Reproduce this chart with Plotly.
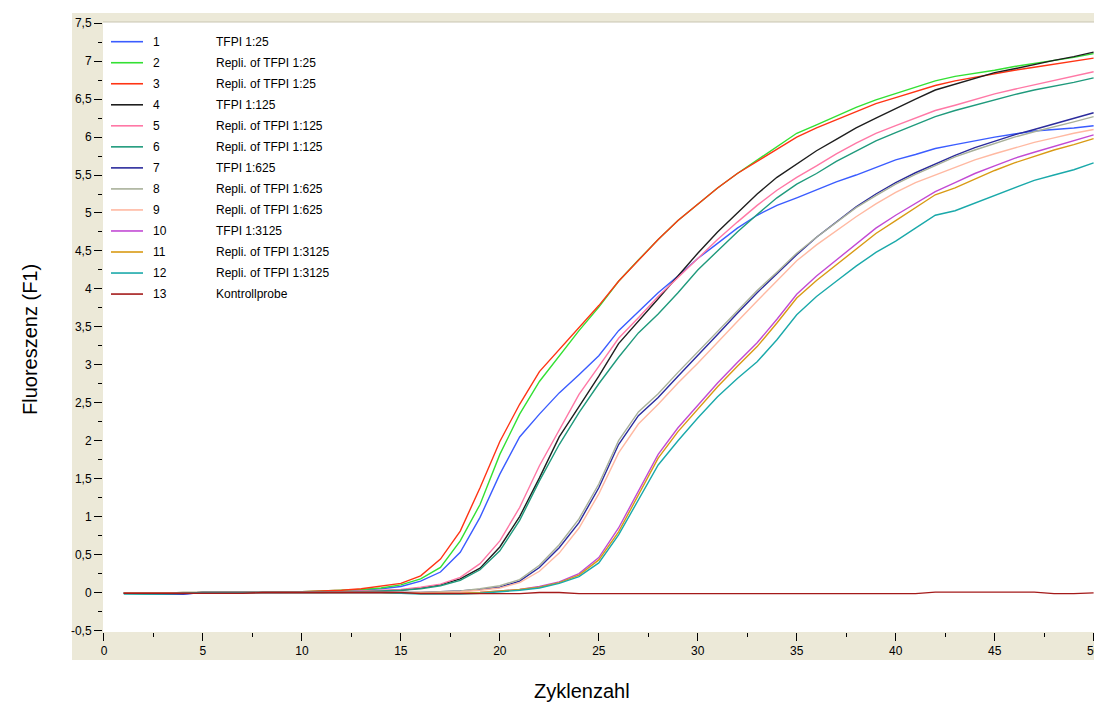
import plotly.graph_objects as go

cycles = list(range(1, 51))

names = ["1", "2", "3", "4", "5", "6", "7", "8", "9", "10", "11", "12", "13"]
labels = ["TFPI 1:25", "Repli. of TFPI 1:25", "Repli. of TFPI 1:25", "TFPI 1:125",
          "Repli. of TFPI 1:125", "Repli. of TFPI 1:125", "TFPI 1:625", "Repli. of TFPI 1:625",
          "Repli. of TFPI 1:625", "TFPI 1:3125", "Repli. of TFPI 1:3125", "Repli. of TFPI 1:3125",
          "Kontrollprobe"]
colors = ["#3a5cff", "#33e033", "#ff3414", "#1e1e1e", "#ff78a6", "#1f9a7c", "#2b2b9c",
          "#a9b19a", "#ffb9a2", "#c24ad4", "#d99a14", "#1aa9aa", "#a41a1a"]

s1 = [-0.01, -0.01, -0.01, -0.02, 0.0, 0.0, 0.0, 0.0, 0.0, 0.01,
      0.01, 0.02, 0.03, 0.05, 0.08, 0.15, 0.27, 0.53, 0.99, 1.56,
      2.05, 2.35, 2.63, 2.87, 3.12, 3.45, 3.7, 3.95, 4.17, 4.4,
      4.6, 4.8, 4.97, 5.1, 5.2, 5.31, 5.41, 5.5, 5.6, 5.7,
      5.77, 5.85, 5.9, 5.95, 6.0, 6.04, 6.08, 6.1, 6.12, 6.15]
s2 = [-0.01, -0.01, -0.01, 0.0, 0.0, 0.0, 0.0, 0.0, 0.01, 0.01,
      0.02, 0.03, 0.04, 0.06, 0.1, 0.18, 0.33, 0.68, 1.16, 1.82,
      2.35, 2.78, 3.11, 3.45, 3.76, 4.1, 4.38, 4.65, 4.9, 5.12,
      5.33, 5.52, 5.7, 5.88, 6.05, 6.16, 6.28, 6.39, 6.49, 6.57,
      6.65, 6.74, 6.8, 6.84, 6.88, 6.93, 6.97, 7.01, 7.05, 7.1]
s3 = [-0.01, -0.01, -0.01, -0.01, -0.01, 0.0, 0.0, 0.0, 0.01, 0.01,
      0.02, 0.03, 0.05, 0.08, 0.12, 0.22, 0.44, 0.81, 1.38, 1.99,
      2.48, 2.91, 3.2, 3.5, 3.78, 4.1, 4.38, 4.65, 4.9, 5.12,
      5.33, 5.52, 5.68, 5.85, 6.0, 6.12, 6.23, 6.34, 6.44, 6.52,
      6.6, 6.68, 6.74, 6.79, 6.84, 6.88, 6.92, 6.96, 7.0, 7.04]
s4 = [-0.01, -0.01, -0.01, -0.01, 0.0, 0.0, 0.0, 0.0, 0.0, 0.0,
      0.0, 0.01, 0.01, 0.02, 0.03, 0.06, 0.1, 0.18, 0.32, 0.6,
      1.0, 1.51, 2.05, 2.45, 2.85, 3.28, 3.57, 3.87, 4.17, 4.47,
      4.75, 5.0, 5.25, 5.47, 5.65, 5.82, 5.97, 6.12, 6.25, 6.38,
      6.5, 6.62, 6.7, 6.77, 6.85, 6.9, 6.96, 7.01, 7.06, 7.12]
s5 = [-0.01, -0.01, -0.01, 0.0, 0.0, 0.0, 0.0, 0.0, 0.0, 0.0,
      0.0, 0.01, 0.02, 0.03, 0.04, 0.07, 0.11, 0.2, 0.38, 0.68,
      1.12, 1.67, 2.15, 2.61, 2.98, 3.35, 3.62, 3.9, 4.15, 4.4,
      4.65, 4.88, 5.1, 5.3, 5.47, 5.62, 5.78, 5.92, 6.05, 6.15,
      6.25, 6.35, 6.42, 6.5, 6.57, 6.63, 6.69, 6.74, 6.8, 6.86]
s6 = [-0.01, -0.02, -0.02, -0.01, 0.0, 0.0, 0.0, 0.0, 0.0, 0.0,
      0.0, 0.0, 0.01, 0.02, 0.03, 0.05, 0.09, 0.16, 0.3, 0.55,
      0.95, 1.47, 1.95, 2.37, 2.75, 3.1, 3.42, 3.67, 3.95, 4.25,
      4.5, 4.75, 4.98, 5.2, 5.38, 5.52, 5.68, 5.82, 5.95, 6.06,
      6.17, 6.27, 6.35, 6.42, 6.5, 6.56, 6.62, 6.67, 6.72, 6.78]
s7 = [-0.01, -0.01, -0.02, -0.02, 0.0, 0.0, 0.0, 0.0, 0.0, 0.0,
      0.0, 0.0, 0.0, 0.0, 0.0, 0.0, 0.01, 0.02, 0.04, 0.07,
      0.15, 0.33, 0.59, 0.92, 1.38, 1.95, 2.33, 2.57, 2.85, 3.12,
      3.4, 3.68, 3.95, 4.2, 4.45, 4.68, 4.88, 5.08, 5.25, 5.4,
      5.53, 5.65, 5.76, 5.86, 5.95, 6.03, 6.1, 6.17, 6.24, 6.32]
s8 = [-0.01, -0.01, -0.01, -0.01, 0.0, 0.0, 0.0, 0.0, 0.0, 0.0,
      0.0, 0.0, 0.0, 0.0, 0.0, 0.0, 0.01, 0.02, 0.05, 0.09,
      0.17, 0.36, 0.63, 0.97, 1.43, 2.0, 2.38, 2.62, 2.9, 3.17,
      3.45, 3.72, 3.98, 4.22, 4.47, 4.68, 4.88, 5.07, 5.23, 5.38,
      5.51, 5.63, 5.74, 5.83, 5.92, 6.0, 6.07, 6.13, 6.2, 6.27]
s9 = [-0.01, -0.01, -0.01, -0.01, 0.0, 0.0, 0.0, 0.0, 0.0, 0.0,
      0.0, 0.0, 0.0, 0.0, 0.0, 0.0, 0.0, 0.01, 0.03, 0.06,
      0.13, 0.28, 0.52, 0.85, 1.3, 1.84, 2.22, 2.48, 2.76, 3.02,
      3.3, 3.57, 3.84, 4.1, 4.37, 4.58, 4.77, 4.95, 5.12, 5.27,
      5.4, 5.5, 5.6, 5.7, 5.78, 5.86, 5.93, 5.99, 6.05, 6.1]
s10 = [-0.01, -0.01, -0.01, -0.01, 0.0, 0.0, 0.0, 0.0, 0.0, 0.0,
       0.0, 0.0, 0.0, 0.0, -0.01, -0.01, -0.01, -0.01, 0.0, 0.02,
       0.04, 0.08, 0.14, 0.25, 0.46, 0.85, 1.34, 1.82, 2.17, 2.47,
       2.76, 3.03, 3.29, 3.6, 3.93, 4.17, 4.38, 4.6, 4.8, 4.97,
       5.13, 5.28, 5.4, 5.52, 5.62, 5.72, 5.8, 5.88, 5.95, 6.03]
s11 = [-0.01, -0.01, -0.01, -0.01, 0.0, 0.0, 0.0, 0.0, 0.0, 0.0,
       0.0, 0.0, 0.0, 0.0, -0.01, -0.01, -0.01, -0.01, 0.0, 0.02,
       0.04, 0.07, 0.13, 0.23, 0.43, 0.8, 1.28, 1.77, 2.12, 2.42,
       2.71, 2.98, 3.24, 3.55, 3.88, 4.11, 4.32, 4.53, 4.73, 4.9,
       5.07, 5.24, 5.33, 5.45, 5.56, 5.66, 5.75, 5.83, 5.9, 5.98]
s12 = [-0.02, -0.02, -0.02, -0.01, 0.0, 0.0, 0.0, 0.0, 0.0, 0.0,
       0.0, 0.0, 0.0, 0.0, -0.01, -0.02, -0.02, -0.02, -0.01, 0.01,
       0.03, 0.06, 0.12, 0.21, 0.39, 0.76, 1.22, 1.68, 2.0, 2.3,
       2.58, 2.82, 3.04, 3.33, 3.66, 3.9, 4.1, 4.3, 4.48, 4.63,
       4.8, 4.97, 5.03, 5.13, 5.24, 5.34, 5.43, 5.5, 5.57, 5.66]
s13 = [-0.01, -0.01, -0.01, -0.01, -0.01, -0.01, -0.01, 0.0, 0.0, 0.0,
       0.0, 0.0, 0.0, 0.0, 0.0, -0.015, -0.015, -0.015, -0.015, -0.015,
       -0.015, 0.0, 0.0, -0.015, -0.015, -0.015, -0.015, -0.015, -0.015, -0.015,
       -0.015, -0.015, -0.015, -0.015, -0.015, -0.015, -0.015, -0.015, -0.015, -0.015,
       -0.015, 0.005, 0.005, 0.005, 0.005, 0.005, 0.005, -0.015, -0.015, -0.005]
series = [s1, s2, s3, s4, s5, s6, s7, s8, s9, s10, s11, s12, s13]

y_tickvals = [-0.5, 0, 0.5, 1, 1.5, 2, 2.5, 3, 3.5, 4, 4.5, 5, 5.5, 6, 6.5, 7, 7.5]
y_ticktext = ["-0,5", "0", "0,5", "1", "1,5", "2", "2,5", "3", "3,5", "4", "4,5",
              "5", "5,5", "6", "6,5", "7", "7,5"]
x_tickvals = [0, 5, 10, 15, 20, 25, 30, 35, 40, 45, 50]
x_minor = [2.5, 7.5, 12.5, 17.5, 22.5, 27.5, 32.5, 37.5, 42.5, 47.5]
y_minor = [-0.25, 0.25, 0.75, 1.25, 1.75, 2.25, 2.75, 3.25, 3.75, 4.25,
           4.75, 5.25, 5.75, 6.25, 6.75, 7.25]

FONT = "Liberation Sans, Arial, sans-serif"
W, H = 1094, 702
ML, MR, MT, MB = 103, 0, 22, 70
PW, PH = W - ML - MR, H - MT - MB

def px_x(px):
    return (px - ML) / PW

def px_y(py):
    return (H - MB - py) / PH

fig = go.Figure()
for nm, lab, col, ys in zip(names, labels, colors, series):
    fig.add_trace(go.Scatter(x=cycles, y=ys, mode="lines", name=nm + " " + lab,
                             line=dict(color=col, width=1.4), showlegend=False))

shapes = [
    dict(type="rect", xref="paper", yref="paper", layer="below",
         x0=px_x(72), x1=1.02, y0=px_y(660), y1=px_y(13),
         fillcolor="#ece9d8", line=dict(width=0)),
    dict(type="rect", xref="paper", yref="paper", layer="below",
         x0=0, x1=1.02, y0=0, y1=1, fillcolor="white", line=dict(width=0)),
    dict(type="line", xref="paper", yref="paper", layer="below",
         x0=0, x1=1.02, y0=1, y1=1, line=dict(color="#c9c5b2", width=1)),
]
annotations = []
for i, (nm, lab, col) in enumerate(zip(names, labels, colors)):
    yrow = 41.7 + 21.03 * i
    shapes.append(dict(type="line", xref="paper", yref="paper",
                       x0=px_x(111), x1=px_x(143), y0=px_y(yrow), y1=px_y(yrow),
                       line=dict(color=col, width=1.6)))
    annotations.append(dict(xref="paper", yref="paper", x=px_x(151), y=px_y(yrow),
                            text=nm, showarrow=False, xanchor="left", yanchor="middle",
                            font=dict(family=FONT, size=12, color="black")))
    annotations.append(dict(xref="paper", yref="paper", x=px_x(214), y=px_y(yrow),
                            text=lab, showarrow=False, xanchor="left", yanchor="middle",
                            font=dict(family=FONT, size=12, color="black")))

annotations.append(dict(xref="paper", yref="paper", x=px_x(30), y=px_y(340),
                        text="Fluoreszenz (F1)", showarrow=False, textangle=-90,
                        xanchor="center", yanchor="middle",
                        font=dict(family=FONT, size=20, color="black")))
annotations.append(dict(xref="paper", yref="paper", x=px_x(582), y=px_y(691),
                        text="Zyklenzahl", showarrow=False,
                        xanchor="center", yanchor="middle",
                        font=dict(family=FONT, size=20, color="black")))

fig.update_layout(
    width=W, height=H,
    margin=dict(l=ML, r=MR, t=MT, b=MB, pad=0, autoexpand=False),
    paper_bgcolor="white", plot_bgcolor="white",
    shapes=shapes, annotations=annotations,
    xaxis=dict(range=[-0.05, 50.02], tickmode="array", tickvals=x_tickvals,
               ticks="outside", ticklen=8, tickwidth=1, tickcolor="black",
               ticklabeloverflow="allow", automargin=False,
               tickfont=dict(family=FONT, size=12, color="black"),
               minor=dict(tickmode="array", tickvals=x_minor,
                          ticks="outside", ticklen=4, tickcolor="black", showgrid=False),
               showgrid=False, zeroline=False, showline=False, fixedrange=True),
    yaxis=dict(range=[-0.52, 7.516], tickmode="array", tickvals=y_tickvals, ticktext=y_ticktext,
               ticks="outside", ticklen=8, tickwidth=1, tickcolor="black",
               automargin=False,
               tickfont=dict(family=FONT, size=12, color="black"),
               minor=dict(tickmode="array", tickvals=y_minor,
                          ticks="outside", ticklen=4, tickcolor="black", showgrid=False),
               showgrid=False, zeroline=False, showline=False, fixedrange=True),
)

fig.write_html("out.html")
